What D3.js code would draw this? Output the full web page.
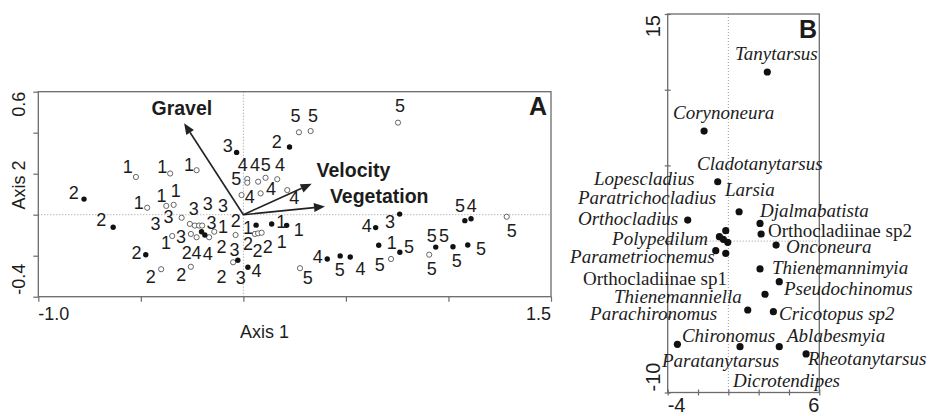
<!DOCTYPE html>
<html>
<head>
<meta charset="utf-8">
<script src="https://cdn.jsdelivr.net/npm/d3@7"></script>
<style>
  body { margin: 0; background: #fff; }
  text { font-family: "Liberation Sans", Arial, sans-serif; fill: #1c1c1c; }
  .sp { font-family: "Liberation Serif", "Times New Roman", serif; font-size: 19px; }
</style>
</head>
<body>
<svg id="chart" width="932" height="416"></svg>
<script>
// ---- panel A: sites (filled / open) and their class labels ----
var filledSites = [[-0.777,0.076],[-0.635,-0.061],[-0.476,-0.195],[-0.033,0.304],[0.225,0.330],
    [-0.204,-0.083],[-0.188,-0.099],[-0.027,-0.222],[0.022,-0.256],[0.062,-0.051],[0.138,-0.045],
    [0.211,-0.052],[0.409,-0.216],[0.472,-0.201],[0.521,-0.206],[0.645,-0.063],[0.762,0.003],
    [0.660,-0.149],[0.763,-0.183],[0.938,-0.158],[1.022,-0.156],[1.094,-0.148],[1.080,-0.029],[1.110,-0.020]];
var openSites = [[-0.524,0.184],[-0.357,0.201],[-0.228,0.217],[-0.469,0.034],[-0.376,0.043],[-0.340,0.048],
    [-0.301,-0.015],[-0.347,-0.104],[-0.401,-0.266],[-0.256,-0.254],
    [-0.261,-0.045],[-0.237,-0.053],[-0.216,-0.053],[-0.201,-0.053],[-0.256,-0.094],[-0.228,-0.110],
    [-0.167,-0.110],[-0.142,-0.083],[-0.038,-0.099],[-0.050,-0.232],
    [0.019,0.174],[0.019,0.156],[0.072,0.161],[0.108,0.180],[0.165,0.173],[-0.009,0.096],[0.084,0.104],[0.214,0.120],
    [0.056,-0.094],[0.072,-0.091],[0.089,-0.088],
    [0.271,0.402],[0.328,0.408],[0.754,0.449],[0.276,-0.261],[0.720,-0.216],[0.906,-0.195],[1.284,-0.010]];
var siteLabels = [[-0.851,0.075,"2"],[-0.717,-0.055,"2"],[-0.546,-0.214,"2"],[-0.588,0.203,"1"],[-0.420,0.203,"1"],
    [-0.290,0.211,"1"],[-0.534,0.030,"1"],[-0.424,0.062,"1"],[-0.354,0.086,"1"],[-0.453,-0.077,"3"],
    [-0.390,-0.042,"3"],[-0.402,-0.165,"1"],[-0.329,-0.138,"3"],[-0.266,-0.001,"3"],[-0.198,0.025,"3"],
    [-0.124,0.011,"3"],[-0.180,-0.072,"3"],[-0.124,-0.091,"1"],[-0.061,-0.062,"2"],[-0.301,-0.216,"2"],
    [-0.253,-0.216,"4"],[-0.198,-0.219,"4"],[-0.131,-0.189,"2"],[-0.068,-0.201,"3"],[-0.476,-0.335,"2"],
    [-0.327,-0.323,"2"],[-0.131,-0.331,"2"],[-0.037,-0.338,"3"],[0.039,-0.302,"4"],[-0.101,0.306,"3"],
    [-0.027,0.213,"4"],[0.032,0.213,"4"],[0.085,0.213,"5"],[0.154,0.213,"4"],[-0.059,0.147,"5"],
    [0.007,0.057,"4"],[0.110,0.096,"4"],[0.224,0.052,"4"],[0.230,0.454,"5"],[0.315,0.454,"5"],
    [0.138,0.324,"2"],[-0.002,-0.094,"1"],[0.160,-0.066,"1"],[0.246,-0.106,"1"],[-0.002,-0.172,"2"],
    [0.044,-0.205,"2"],[0.095,-0.188,"2"],[0.163,-0.162,"1"],[0.290,-0.336,"5"],[0.338,-0.234,"4"],
    [0.446,-0.297,"5"],[0.547,-0.294,"4"],[0.577,-0.083,"4"],[0.690,-0.066,"3"],[0.699,-0.167,"1"],
    [0.641,-0.275,"5"],[0.783,-0.188,"5"],[0.739,0.502,"5"],[1.032,0.015,"5"],[1.089,0.015,"4"],
    [1.284,-0.107,"5"],[0.894,-0.132,"5"],[0.954,-0.132,"5"],[1.134,-0.197,"5"],[0.894,-0.294,"5"],
    [1.016,-0.254,"5"]];

// environmental vectors
var envNames = ["Gravel", "Velocity", "Vegetation"];
var envX = [-0.289, 0.333, 0.398];
var envY = [0.446, 0.151, 0.040];
var envLabelX = [-0.448, 0.357, 0.422];
var envLabelY = [0.485, 0.186, 0.058];

var xTicksA = [-1, -0.5, 0, 0.5, 1, 1.5];
var yTicksA = [-0.4, -0.2, 0, 0.2, 0.4, 0.6];

// ---- panel B: species ----
var speciesPoints = [[2.57,11.17],[-1.60,7.27],[-0.70,3.92],[0.71,1.94],[-2.68,1.39],[2.09,1.17],[2.16,0.47],
    [-0.17,0.69],[-0.59,0.29],[-0.33,0.12],[-0.04,-0.08],[3.15,-0.26],[-0.83,-0.63],[-0.17,-0.81],
    [2.09,-1.84],[3.36,-2.68],[2.42,-3.51],[1.28,-4.55],[2.97,-4.66],[-3.36,-6.82],[0.77,-6.97],
    [3.36,-6.97],[5.13,-7.45]];
var speciesNames = ["Tanytarsus","Corynoneura","Cladotanytarsus","Lopescladius","Larsia","Paratrichocladius",
    "Djalmabatista","Orthocladius","Orthocladiinae sp2","Polypedilum","Onconeura","Parametriocnemus",
    "Thienemannimyia","Orthocladiinae sp1","Pseudochinomus","Thienemanniella","Cricotopus sp2",
    "Parachironomus","Chironomus","Ablabesmyia","Rheotanytarsus","Paratanytarsus","Dicrotendipes"];
var speciesLabelX = [0.44,-3.65,-2.07,-8.86,-0.22,-9.92,2.09,-9.92,2.61,-7.67,3.80,-10.44,
    2.88,-9.59,3.67,-7.54,3.34,-9.12,-3.06,3.87,5.26,-4.38,0.31];
var speciesLabelY = [11.96,8.06,4.70,3.71,2.98,2.45,1.61,1.06,0.27,-0.26,-0.79,-1.44,
    -2.17,-2.90,-3.55,-4.09,-5.21,-5.21,-6.64,-6.64,-8.18,-8.29,-9.61];

var xTicksB = [-4, -2, 0, 2, 4, 6];
var yTicksB = [-10, -5, 0, 5, 10, 15];

var svg = d3.select("#chart");
var frameColor = "#6b6b6b";

// ================= panel A =================
var xA = d3.scaleLinear().domain([-1, 1.5]).range([38.3, 551]);
var yA = d3.scaleLinear().domain([-0.4, 0.6]).range([296.7, 91.7]);
var gA = svg.append("g");

gA.append("line").attr("x1", xA(0)).attr("x2", xA(0)).attr("y1", yA(0.6)).attr("y2", yA(-0.4))
    .attr("stroke", "#999").attr("stroke-dasharray", "1,2");
gA.append("line").attr("x1", xA(-1)).attr("x2", xA(1.5)).attr("y1", yA(0)).attr("y2", yA(0))
    .attr("stroke", "#999").attr("stroke-dasharray", "1,2");

gA.append("g").attr("transform", "translate(0," + yA(-0.4) + ")")
    .call(d3.axisBottom(xA).tickValues(xTicksA).tickSizeInner(5).tickSizeOuter(0).tickFormat(""))
    .call(function(g) { g.select(".domain").remove(); g.selectAll(".tick line").attr("stroke", frameColor).attr("stroke-width", 1.2); });
gA.append("g").attr("transform", "translate(" + xA(-1) + ",0)")
    .call(d3.axisLeft(yA).tickValues(yTicksA).tickSizeInner(5).tickSizeOuter(0).tickFormat(""))
    .call(function(g) { g.select(".domain").remove(); g.selectAll(".tick line").attr("stroke", frameColor).attr("stroke-width", 1.2); });

gA.append("rect").attr("x", xA(-1)).attr("y", yA(0.6))
    .attr("width", xA(1.5) - xA(-1)).attr("height", yA(-0.4) - yA(0.6))
    .attr("fill", "none").attr("stroke", frameColor).attr("stroke-width", 1.3);

// axis end labels
gA.append("text").attr("x", xA(-1)).attr("y", 320).attr("font-size", 18).text("-1.0");
gA.append("text").attr("x", xA(1.5)).attr("y", 320).attr("font-size", 18).attr("text-anchor", "end").text("1.5");
gA.append("text").attr("transform", "translate(25," + yA(0.6) + ") rotate(-90)")
    .attr("font-size", 18).attr("text-anchor", "end").text("0.6");
gA.append("text").attr("transform", "translate(25," + (yA(-0.4) - 2) + ") rotate(-90)")
    .attr("font-size", 18).attr("text-anchor", "start").text("-0.4");
gA.append("text").attr("transform", "translate(25,185) rotate(-90)")
    .attr("font-size", 18).attr("text-anchor", "middle").text("Axis 2");
gA.append("text").attr("x", 240).attr("y", 338).attr("font-size", 18).text("Axis 1");
gA.append("text").attr("x", 547).attr("y", 115).attr("font-size", 25).attr("font-weight", "bold")
    .attr("text-anchor", "end").text("A");

// env arrows
envNames.forEach(function(name, i) {
    var x0 = xA(0), y0 = yA(0), x1 = xA(envX[i]), y1 = yA(envY[i]);
    var ang = Math.atan2(y1 - y0, x1 - x0), len = 11, hw = 4.5;
    var bx = x1 - len * Math.cos(ang), by = y1 - len * Math.sin(ang);
    gA.append("line").attr("x1", x0).attr("y1", y0).attr("x2", bx).attr("y2", by)
        .attr("stroke", "#222").attr("stroke-width", 1.6);
    gA.append("path")
        .attr("d", d3.line()([[x1, y1],
            [bx + hw * Math.sin(ang), by - hw * Math.cos(ang)],
            [bx - hw * Math.sin(ang), by + hw * Math.cos(ang)]]) + "Z")
        .attr("fill", "#222");
    gA.append("text").attr("x", xA(envLabelX[i])).attr("y", yA(envLabelY[i]))
        .attr("font-size", 19.5).attr("font-weight", "bold").text(name);
});

gA.selectAll("circle.open").data(openSites).enter().append("circle")
    .attr("class", "open").attr("cx", function(d) { return xA(d[0]); }).attr("cy", function(d) { return yA(d[1]); })
    .attr("r", 2.6).attr("fill", "#fff").attr("stroke", "#555").attr("stroke-width", 0.9);
gA.selectAll("circle.filled").data(filledSites).enter().append("circle")
    .attr("class", "filled").attr("cx", function(d) { return xA(d[0]); }).attr("cy", function(d) { return yA(d[1]); })
    .attr("r", 2.7).attr("fill", "#111");
gA.selectAll("text.site").data(siteLabels).enter().append("text")
    .attr("class", "site").attr("x", function(d) { return xA(d[0]); }).attr("y", function(d) { return yA(d[1]); })
    .attr("font-size", 18).text(function(d) { return d[2]; });

// ================= panel B =================
var xB = d3.scaleLinear().domain([-4, 6]).range([667.7, 819.3]);
var yB = d3.scaleLinear().domain([-10, 15]).range([392.5, 14]);
var gB = svg.append("g");

gB.append("line").attr("x1", xB(0)).attr("x2", xB(0)).attr("y1", yB(15)).attr("y2", yB(-10))
    .attr("stroke", "#999").attr("stroke-dasharray", "1,2");
gB.append("line").attr("x1", xB(-4)).attr("x2", xB(6)).attr("y1", yB(0)).attr("y2", yB(0))
    .attr("stroke", "#999").attr("stroke-dasharray", "1,2");

gB.append("g").attr("transform", "translate(0," + yB(-10) + ")")
    .call(d3.axisBottom(xB).tickValues(xTicksB).tickSizeOuter(0).tickFormat(""))
    .call(function(g) { g.select(".domain").remove(); g.selectAll(".tick line").attr("y1", -3).attr("y2", 3).attr("stroke", frameColor).attr("stroke-width", 1.2); });
gB.append("g").attr("transform", "translate(" + xB(-4) + ",0)")
    .call(d3.axisLeft(yB).tickValues(yTicksB).tickSizeOuter(0).tickFormat(""))
    .call(function(g) { g.select(".domain").remove(); g.selectAll(".tick line").attr("x1", -3).attr("x2", 3).attr("stroke", frameColor).attr("stroke-width", 1.2); });

gB.append("rect").attr("x", xB(-4)).attr("y", yB(15))
    .attr("width", xB(6) - xB(-4)).attr("height", yB(-10) - yB(15))
    .attr("fill", "none").attr("stroke", frameColor).attr("stroke-width", 1.3);

gB.append("text").attr("x", xB(-4)).attr("y", 412).attr("font-size", 20).text("-4");
gB.append("text").attr("x", xB(6)).attr("y", 412).attr("font-size", 20).attr("text-anchor", "end").text("6");
gB.append("text").attr("transform", "translate(660," + (yB(15) + 1) + ") rotate(-90)")
    .attr("font-size", 20).attr("text-anchor", "end").text("15");
gB.append("text").attr("transform", "translate(660," + (yB(-10) - 1) + ") rotate(-90)")
    .attr("font-size", 20).attr("text-anchor", "start").text("-10");
gB.append("text").attr("x", 817).attr("y", 38).attr("font-size", 25).attr("font-weight", "bold")
    .attr("text-anchor", "end").text("B");

gB.selectAll("circle").data(speciesPoints).enter().append("circle")
    .attr("cx", function(d) { return xB(d[0]); }).attr("cy", function(d) { return yB(d[1]); })
    .attr("r", 3.6).attr("fill", "#111");
gB.selectAll("text.sp").data(speciesNames).enter().append("text")
    .attr("class", "sp")
    .attr("x", function(d, i) { return xB(speciesLabelX[i]); })
    .attr("y", function(d, i) { return yB(speciesLabelY[i]); })
    .attr("font-style", function(d) { return d.indexOf("Orthocladiinae") === 0 ? "normal" : "italic"; })
    .text(function(d) { return d; });
</script>
</body>
</html>
